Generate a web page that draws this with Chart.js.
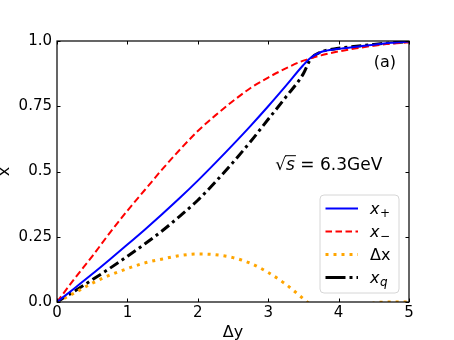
<!DOCTYPE html>
<html><head><meta charset="utf-8">
<script src="https://cdn.jsdelivr.net/npm/chart.js@4/dist/chart.umd.min.js"></script>
<style>html,body{margin:0;padding:0;background:#fff;}</style>
</head><body>
<canvas id="c" width="454" height="340"></canvas>
<script>
// ---- data ----
const deltaY   = [0, 0.25, 0.5, 0.75, 1, 1.25, 1.5, 1.75, 2, 2.25, 2.5, 2.75, 3, 3.25, 3.5, 3.6, 3.75, 4, 4.25, 4.5, 4.75, 5];
const xPlus    = [0, 0.053, 0.107, 0.163, 0.22, 0.278, 0.338, 0.40, 0.465, 0.533, 0.603, 0.675, 0.75, 0.828, 0.908, 0.935, 0.958, 0.97, 0.978, 0.986, 0.993, 0.998];
const xMinus   = [0, 0.09, 0.175, 0.265, 0.35, 0.43, 0.51, 0.585, 0.655, 0.715, 0.77, 0.82, 0.86, 0.895, 0.925, 0.933, 0.945, 0.96, 0.972, 0.982, 0.99, 0.995];
const deltaX   = [0, 0.035, 0.072, 0.103, 0.128, 0.15, 0.165, 0.178, 0.184, 0.181, 0.17, 0.148, 0.113, 0.068, 0.012, -0.01, -0.04, -0.05, -0.04, -0.004, 0, 0];
const xQ       = [0, 0.042, 0.085, 0.129, 0.175, 0.223, 0.274, 0.33, 0.39, 0.46, 0.535, 0.615, 0.70, 0.785, 0.875, 0.93, 0.958, 0.972, 0.98, 0.987, 0.993, 0.998];
const seriesNames = ['x₊', 'x₋', 'Δx', 'x_q'];
const legendMain  = ['x', 'x', 'Δx', 'x'];
const legendSub   = ['+', '−', '', 'q'];
const xTickVals   = [0, 1, 2, 3, 4, 5];
const xTickLabels = ['0', '1', '2', '3', '4', '5'];
const yTickVals   = [0, 0.25, 0.5, 0.75, 1.0];
const yTickLabels = ['0.0', '0.25', '0.5', '0.75', '1.0'];
const xTitle = 'Δy';
const yTitle = 'x';
const energyLabel = ['√', 's', ' = 6.3GeV'];
const panelLabel = '(a)';

const pts = arr => arr.map((v, i) => ({x: deltaY[i], y: v}));
const FONT = "'DejaVu Sans'";

const styles = [
  {color: '#0000ff', width: 2, dash: [], legendDash: []},
  {color: '#ff0000', width: 2, dash: [7, 3.5], legendDash: [6.5, 3.5]},
  {color: '#ffa500', width: 3, dash: [3, 5], legendDash: [3, 5]},
  {color: '#000000', width: 3, dash: [10, 4, 3, 4], legendDash: [20, 4, 3, 4]}
];
const values = [xPlus, xMinus, deltaX, xQ];

const frameTicks = {
  id: 'frameTicks',
  afterDatasetsDraw(chart) {
    const {ctx, chartArea: a, scales} = chart;
    ctx.save();
    ctx.strokeStyle = '#000';
    ctx.lineWidth = 1;
    const L = 3.5;
    xTickVals.forEach(v => {
      const px = Math.round(scales.x.getPixelForValue(v)) + 0.5;
      ctx.beginPath();
      ctx.moveTo(px, a.bottom); ctx.lineTo(px, a.bottom - L);
      ctx.moveTo(px, a.top); ctx.lineTo(px, a.top + L);
      ctx.stroke();
    });
    yTickVals.forEach(v => {
      const py = Math.round(scales.y.getPixelForValue(v)) + 0.5;
      ctx.beginPath();
      ctx.moveTo(a.left, py); ctx.lineTo(a.left + L, py);
      ctx.moveTo(a.right, py); ctx.lineTo(a.right - L, py);
      ctx.stroke();
    });
    ctx.lineWidth = 1.2;
    ctx.strokeRect(a.left, a.top, a.right - a.left, a.bottom - a.top);

    // annotations
    ctx.fillStyle = '#000';
    ctx.textBaseline = 'alphabetic';
    ctx.textAlign = 'left';
    let ex = scales.x.getPixelForValue(3.1), ey = scales.y.getPixelForValue(0.505);
    ctx.font = '17px ' + FONT;
    ctx.fillText(energyLabel[0], ex, ey);
    const w0 = ctx.measureText(energyLabel[0]).width;
    ctx.font = 'italic 17px ' + FONT;
    ctx.fillText(energyLabel[1], ex + w0, ey);
    const w1 = ctx.measureText(energyLabel[1]).width;
    ctx.beginPath();
    ctx.lineWidth = 1;
    ctx.moveTo(ex + w0 - 1, ey - 14.5); ctx.lineTo(ex + w0 + w1 + 1, ey - 14.5);
    ctx.stroke();
    ctx.font = '17px ' + FONT;
    ctx.fillText(energyLabel[2], ex + w0 + w1, ey);
    ctx.font = '16px ' + FONT;
    ctx.fillText(panelLabel, scales.x.getPixelForValue(4.5), scales.y.getPixelForValue(0.9));

    // legend
    const bx = a.right - 89, by = a.bottom - 107, bw = 79, bh = 98, r = 4;
    ctx.beginPath();
    ctx.moveTo(bx + r, by); ctx.lineTo(bx + bw - r, by); ctx.arcTo(bx + bw, by, bx + bw, by + r, r);
    ctx.lineTo(bx + bw, by + bh - r); ctx.arcTo(bx + bw, by + bh, bx + bw - r, by + bh, r);
    ctx.lineTo(bx + r, by + bh); ctx.arcTo(bx, by + bh, bx, by + bh - r, r);
    ctx.lineTo(bx, by + r); ctx.arcTo(bx, by, bx + r, by, r);
    ctx.closePath();
    ctx.fillStyle = 'rgba(255,255,255,0.8)';
    ctx.fill();
    ctx.strokeStyle = '#d6d6d6';
    ctx.lineWidth = 1;
    ctx.stroke();
    styles.forEach((s, i) => {
      const cy = by + 13.5 + i * 23;
      ctx.beginPath();
      ctx.strokeStyle = s.color;
      ctx.lineWidth = s.width;
      ctx.setLineDash(s.legendDash);
      ctx.moveTo(bx + 5.5, cy); ctx.lineTo(bx + 38, cy);
      ctx.stroke();
      ctx.setLineDash([]);
      ctx.fillStyle = '#000';
      const tx = bx + 50, base = cy + 5;
      ctx.font = (legendMain[i] === 'x' ? 'italic ' : '') + '16px ' + FONT;
      ctx.fillText(legendMain[i], tx, base);
      const mw = ctx.measureText(legendMain[i]).width;
      if (legendSub[i]) {
        ctx.font = (legendSub[i] === 'q' ? 'italic ' : '') + '12px ' + FONT;
        ctx.fillText(legendSub[i], tx + mw + 0.5, base + 3);
      }
    });
    ctx.restore();
  }
};

new Chart(document.getElementById('c'), {
  type: 'line',
  data: {
    datasets: values.map((v, i) => ({
      label: seriesNames[i],
      data: pts(v),
      borderColor: styles[i].color,
      backgroundColor: styles[i].color,
      borderWidth: styles[i].width,
      borderDash: styles[i].dash,
      pointRadius: 0,
      cubicInterpolationMode: 'monotone',
      fill: false,
      clip: 0
    }))
  },
  options: {
    responsive: false,
    animation: false,
    devicePixelRatio: 1,
    layout: {padding: {top: 41, right: 45, left: 0, bottom: 0}},
    plugins: {legend: {display: false}, tooltip: {enabled: false}},
    scales: {
      x: {
        type: 'linear', min: 0, max: 5,
        afterBuildTicks: s => { s.ticks = xTickVals.map(v => ({value: v})); },
        afterFit: s => { s.height = 38; },
        grid: {display: false, drawTicks: false},
        border: {display: false},
        ticks: {color: '#000', font: {family: FONT, size: 15}, padding: 2, maxRotation: 0,
                callback: (v) => xTickLabels[xTickVals.indexOf(v)]},
        title: {display: true, text: xTitle, color: '#000', font: {family: FONT, size: 16}, padding: {top: 0, bottom: -2.6}}
      },
      y: {
        type: 'linear', min: 0, max: 1,
        afterBuildTicks: s => { s.ticks = yTickVals.map(v => ({value: v})); },
        afterFit: s => { s.width = 57; },
        grid: {display: false, drawTicks: false},
        border: {display: false},
        ticks: {color: '#000', font: {family: FONT, size: 15}, padding: 5,
                callback: (v) => yTickLabels[yTickVals.indexOf(v)]},
        title: {display: true, text: yTitle, color: '#000', font: {family: FONT, size: 16}, padding: {top: -4.4, bottom: 0}}
      }
    }
  },
  plugins: [frameTicks]
});
</script>
</body></html>
